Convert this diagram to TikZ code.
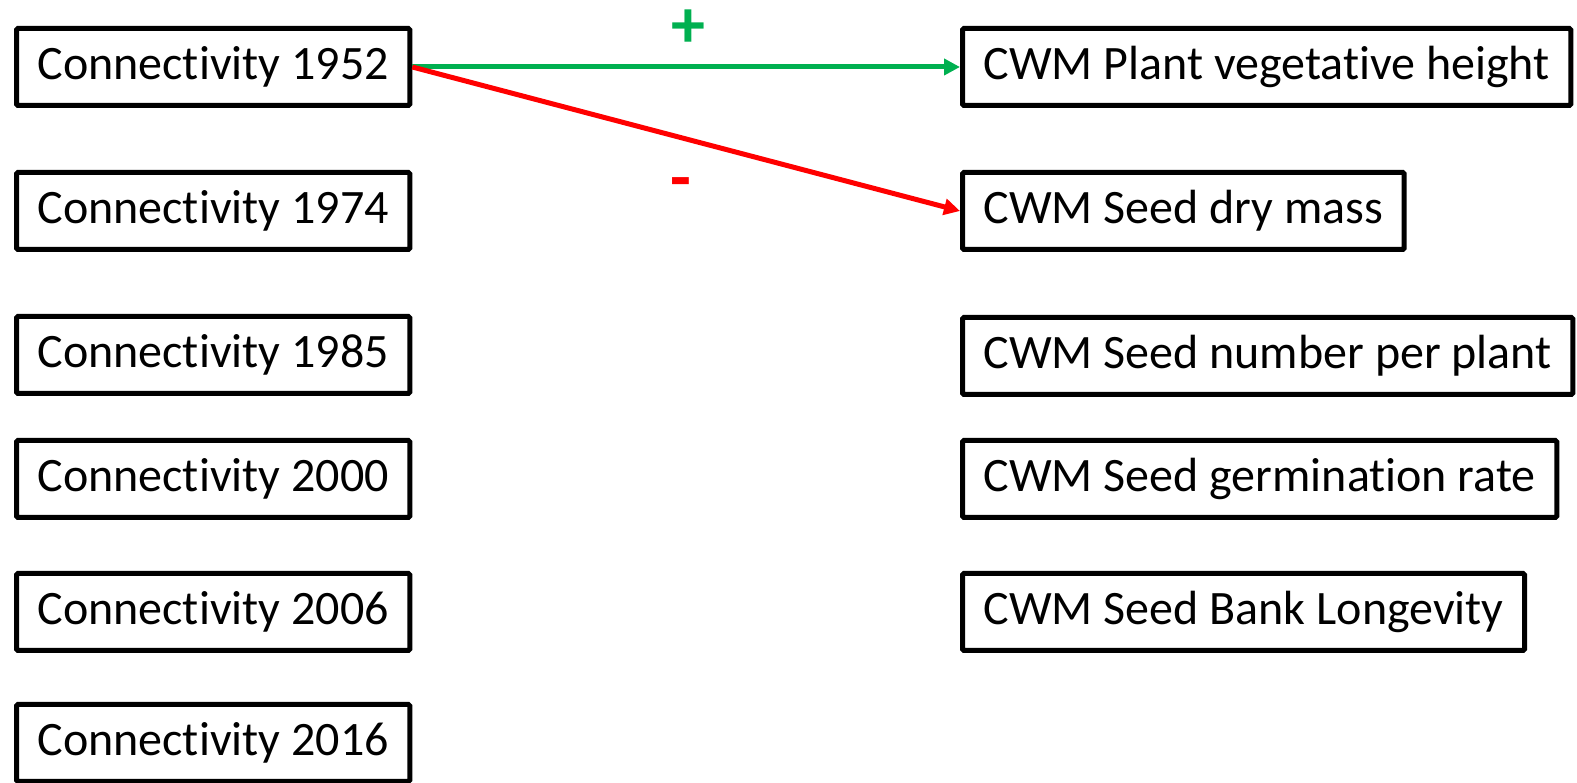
\documentclass[tikz,border=0pt]{standalone}
\usepackage{fontspec}
\setmainfont{Carlito}[Ligatures=NoCommon]
\usetikzlibrary{arrows.meta}
\definecolor{pgreen}{RGB}{0,176,80}
\definecolor{pred}{RGB}{255,0,0}
\begin{document}
\begin{tikzpicture}[x=1pt,y=1pt,
  box/.style={draw=black, line width=5pt, rounded corners=1.5pt, anchor=west,
    minimum height=77pt, inner xsep=21pt, inner ysep=0pt,
    font=\fontsize{48}{57}\selectfont},
  posarrow/.style={draw=pgreen, line width=5pt, -{Triangle[length=16pt,width=16pt]}},
  negarrow/.style={draw=pred, line width=5pt, -{Triangle[length=16pt,width=16pt]}},
  lbl/.style={font=\fontsize{68}{80}\selectfont\bfseries, inner sep=0pt}
]
\useasboundingbox (0,0) rectangle (1577,783);
% left column
\node[box] (c1952) at (14,783-67) {Connectivity 1952};
\node[box] (c1974) at (14,783-211) {Connectivity 1974};
\node[box] (c1985) at (14,783-355) {Connectivity 1985};
\node[box] (c2000) at (14,783-479) {Connectivity 2000};
\node[box] (c2006) at (14,783-612) {Connectivity 2006};
\node[box] (c2016) at (14,783-743) {Connectivity 2016};
% right column
\node[box] (height) at (960,783-67) {CWM Plant vegetative height};
\node[box] (mass) at (960,783-211) {CWM Seed dry mass};
\node[box] (number) at (960,783-356) {CWM Seed number per plant};
\node[box] (germ) at (960,783-479) {CWM Seed germination rate};
\node[box] (bank) at (960,783-612) {CWM Seed Bank Longevity};
% connectors
\draw[posarrow] (c1952.east) -- (height.west);
\draw[negarrow] (c1952.east) -- (mass.west);
\node[lbl, text=pgreen] (plus) at (688,783-29) {+};
\node[lbl, text=pred] (minus) at (681,783-189) {-};
\end{tikzpicture}
\end{document}
